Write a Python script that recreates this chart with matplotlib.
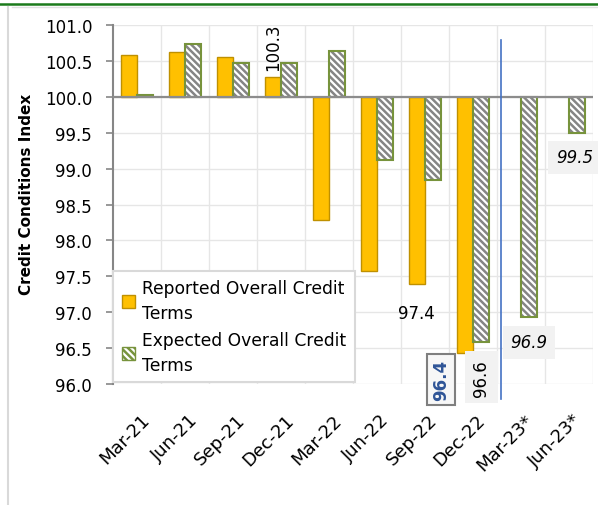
import matplotlib.pyplot as plt
from matplotlib.lines import Line2D
from matplotlib.patches import Patch
import numpy as np

plt.rcParams['font.family'] = ['DejaVu Sans']
plt.rcParams['hatch.linewidth'] = 1.8

quarters = ['Mar-21', 'Jun-21', 'Sep-21', 'Dec-21', 'Mar-22', 'Jun-22',
            'Sep-22', 'Dec-22', 'Mar-23*', 'Jun-23*']
reported = [100.58, 100.62, 100.56, 100.28, 98.29, 97.58, 97.39, 96.43, None, None]
expected = [100.03, 100.73, 100.47, 100.47, 100.64, 99.12, 98.84, 96.58, 96.93, 99.49]
base = 100.0

x = np.arange(len(quarters))
w = 0.34
hatch = '\\' * 5
label_shift = 0.07

fig = plt.figure(figsize=(5.98, 5.06), dpi=100)
ax = fig.add_axes([0.189, 0.239, 0.8026, 0.7096])

rep_x = [x[i] - w / 2 for i in range(len(x)) if reported[i] is not None]
rep_v = [v for v in reported if v is not None]
ax.bar(rep_x, [v - base for v in rep_v], w, bottom=base,
       color='#FFC000', edgecolor='#BF9000', linewidth=1, zorder=3)

exp_x = x + w / 2
exp_h = [v - base for v in expected]
ax.bar(exp_x, exp_h, w, bottom=base, color='white', edgecolor='#858585',
       hatch=hatch, linewidth=0, zorder=3)
ax.bar(exp_x, exp_h, w, bottom=base, fill=False, edgecolor='#77933C',
       linewidth=1.5, zorder=4)

ax.axhline(base, color='#8C8C8C', lw=1.6, zorder=5)

ax.set_xlim(-0.5, len(quarters) - 0.5)
ax.set_ylim(96, 101)
ax.set_yticks(np.arange(96, 101.01, 0.5))
ax.set_yticklabels([f'{t:.1f}' for t in np.arange(96, 101.01, 0.5)], fontsize=12)
ax.set_xticks(x + label_shift)
ax.set_xticklabels(quarters, fontsize=13, rotation=45, ha='right', va='top',
                   rotation_mode='anchor')
ax.set_xticks(np.arange(0.5, len(quarters) - 0.4, 1), minor=True)
ax.tick_params(axis='x', which='both', length=0, pad=19)
ax.tick_params(axis='y', length=5, color='#868686', width=1.2, pad=10)
ax.grid(axis='y', color='#E6E6E6', lw=1, zorder=0)
ax.grid(axis='x', which='minor', color='#E6E6E6', lw=1, zorder=0)
for s in ['top', 'right', 'bottom']:
    ax.spines[s].set_visible(False)
ax.spines['left'].set_color('#868686')
ax.spines['left'].set_linewidth(1.5)

ax.set_ylabel('Credit Conditions Index', fontsize=11, fontweight='bold')
ax.yaxis.set_label_coords(-0.165, 0.53)

# separator between actual and expected quarters
split = 7.585
ax.plot([split, split], [95.79, 100.79], color='#4472C4', lw=1.2,
        clip_on=False, zorder=8)

# data labels
ax.annotate('100.3', (3 - w / 2, reported[3]), xytext=(0, 5), textcoords='offset points',
            rotation=90, ha='center', va='bottom', fontsize=12, zorder=7)
ax.annotate('97.4', (6 - w / 2, reported[6]), xytext=(0, -14), textcoords='offset points',
            ha='center', va='top', fontsize=12, zorder=7)
ax.annotate('96.4', (7 - w / 2, reported[7]), xytext=(-17, -19), textcoords='offset points',
            rotation=90, ha='center', va='center', fontsize=12, fontweight='bold',
            color='#2F5597', zorder=7, annotation_clip=False,
            bbox=dict(boxstyle='square,pad=0.3', fc='#F7F7F7', ec='#7F7F7F', lw=1.5))
ax.annotate('96.6', (7 + w / 2, expected[7]), xytext=(0, -25), textcoords='offset points',
            rotation=90, ha='center', va='center', fontsize=12, zorder=7,
            annotation_clip=False,
            bbox=dict(boxstyle='square,pad=0.45', fc='#F2F2F2', ec='none'))
ax.annotate('96.9', (8 + w / 2, expected[8]), xytext=(0, -18), textcoords='offset points',
            ha='center', va='center', fontsize=12, style='italic', zorder=7,
            bbox=dict(boxstyle='square,pad=0.45', fc='#F2F2F2', ec='none'))
ax.annotate('99.5', (9 + w / 2, expected[9]), xytext=(-2, -17), textcoords='offset points',
            ha='center', va='center', fontsize=12, style='italic', zorder=7,
            annotation_clip=False,
            bbox=dict(boxstyle='square,pad=0.45', fc='#F2F2F2', ec='none'))

handles = [Patch(facecolor='#FFC000', edgecolor='#BF9000'),
           Patch(facecolor='white', edgecolor='#77933C', hatch=hatch)]
leg = ax.legend(handles, ['Reported Overall Credit\nTerms', 'Expected Overall Credit\nTerms'],
                loc='lower left', bbox_to_anchor=(0.0, 0.005), borderaxespad=0,
                fontsize=12.3, fancybox=False, framealpha=1, edgecolor='#D9D9D9',
                handlelength=0.8, handleheight=0.8, handletextpad=0.4,
                labelspacing=0.5, borderpad=0.5)
for t in leg.get_texts():
    t.set_linespacing(1.5)
leg.set_zorder(8)
leg.get_frame().set_linewidth(1.5)

# chart frame pieces
W, H = 598, 506
fig.add_artist(Line2D([0, 1], [1 - 5 / H, 1 - 5 / H], color='#1B7A1B', lw=1.8))
fig.add_artist(Line2D([0.02, 1], [1 - 8 / H, 1 - 8 / H], color='#E0E0E0', lw=1))
fig.add_artist(Line2D([8 / W, 8 / W], [0, 1 - 8 / H], color='#D9D9D9', lw=1.5))

fig.savefig('out.png', dpi=100)
